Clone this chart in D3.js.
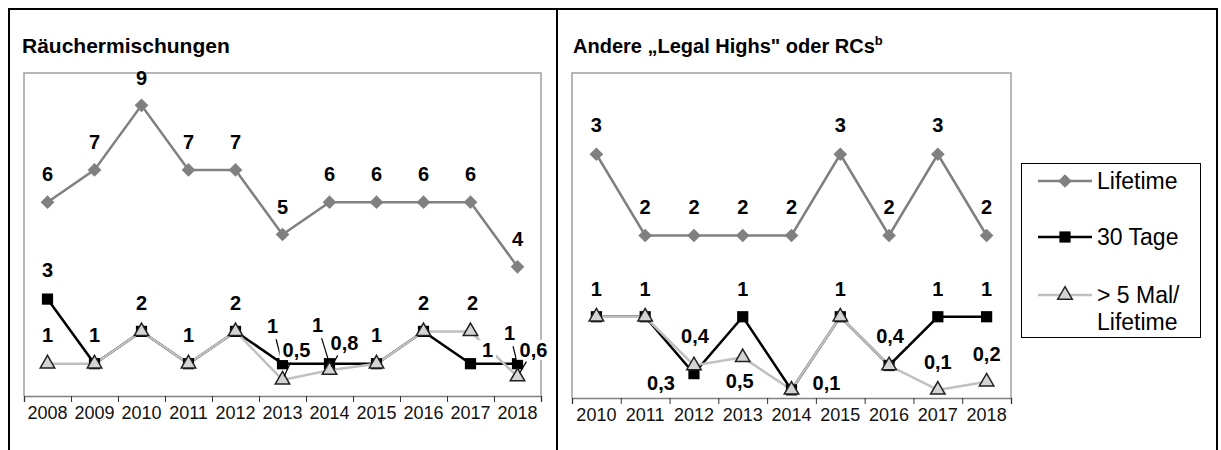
<!DOCTYPE html>
<html>
<head>
<meta charset="utf-8">
<script src="https://cdn.jsdelivr.net/npm/d3@7"></script>
<style>
	body { margin: 0; background: white; }
	text { font-family: Arial, "Liberation Sans", sans-serif; }
</style>
</head>
<body>
<script>
// Räuchermischungen (links)
var years1 = [2008, 2009, 2010, 2011, 2012, 2013, 2014, 2015, 2016, 2017, 2018]
var lifetime1 = [6, 7, 9, 7, 7, 5, 6, 6, 6, 6, 4]
var tage1 = [3, 1, 2, 1, 2, 1, 1, 1, 2, 1, 1]
var mal1 = [1, 1, 2, 1, 2, 0.5, 0.8, 1, 2, 2, 0.6]

// Andere "Legal Highs" oder RCs (rechts)
var years2 = [2010, 2011, 2012, 2013, 2014, 2015, 2016, 2017, 2018]
var lifetime2 = [3, 2, 2, 2, 2, 3, 2, 3, 2]
var tage2 = [1, 1, 0.3, 1, 0.1, 1, 0.4, 1, 1]
var mal2 = [1, 1, 0.4, 0.5, 0.1, 1, 0.4, 0.1, 0.2]

var seriesNames = ['Lifetime', '30 Tage', '> 5 Mal/']

// which data labels are shown, and where they sit relative to the point
var labels1 = [
	...years1.map((y, i) => ({s: 0, i: i, dx: 0, dy: -28})),
	{s: 1, i: 0, dx: 0, dy: -29},
	{s: 1, i: 5, dx: -10, dy: -38, leader: true},
	{s: 1, i: 6, dx: -12, dy: -39, leader: true},
	{s: 1, i: 9, dx: 17, dy: -14},
	{s: 1, i: 10, dx: -8, dy: -31, leader: true},
	{s: 2, i: 0, dx: 0, dy: -29},
	{s: 2, i: 1, dx: 0, dy: -29},
	{s: 2, i: 2, dx: 0, dy: -29},
	{s: 2, i: 3, dx: 0, dy: -29},
	{s: 2, i: 4, dx: 0, dy: -29},
	{s: 2, i: 5, dx: 14, dy: -30, leader: true},
	{s: 2, i: 6, dx: 15, dy: -27, leader: true},
	{s: 2, i: 7, dx: 0, dy: -29},
	{s: 2, i: 8, dx: 0, dy: -29},
	{s: 2, i: 9, dx: 2, dy: -29},
	{s: 2, i: 10, dx: 16, dy: -27, leader: true}
]

var labels2 = [
	...years2.map((y, i) => ({s: 0, i: i, dx: 0, dy: -29})),
	{s: 1, i: 2, dx: -33, dy: 9},
	{s: 1, i: 3, dx: 0, dy: -28},
	{s: 1, i: 7, dx: 0, dy: -28},
	{s: 1, i: 8, dx: 0, dy: -28},
	{s: 2, i: 0, dx: 0, dy: -28},
	{s: 2, i: 1, dx: 0, dy: -28},
	{s: 2, i: 2, dx: 1, dy: -30},
	{s: 2, i: 3, dx: -3, dy: 23},
	{s: 2, i: 4, dx: 35, dy: -7},
	{s: 2, i: 5, dx: 0, dy: -28},
	{s: 2, i: 6, dx: 1, dy: -30},
	{s: 2, i: 7, dx: 0, dy: -28},
	{s: 2, i: 8, dx: 0, dy: -28}
]

var styles = [
	{stroke: '#808080', fill: '#808080', marker: d3.symbolDiamond2, size: 120, mstroke: 'none'},
	{stroke: '#000000', fill: '#000000', marker: d3.symbolSquare2, size: 160, mstroke: 'none'},
	{stroke: '#c0c0c0', fill: '#d4d4d4', marker: d3.symbolTriangle2, size: 150, mstroke: '#222'}
]

var width = 1221, height = 450

var svg = d3.select('body').append('svg')
	.attr('width', width)
	.attr('height', height)

// table frame
var frame = svg.append('g').attr('stroke', 'black').attr('stroke-width', 2)
frame.append('line').attr('x1', 8).attr('x2', 1218).attr('y1', 9).attr('y2', 9)
frame.append('line').attr('x1', 9).attr('x2', 9).attr('y1', 8).attr('y2', height)
frame.append('line').attr('x1', 557).attr('x2', 557).attr('y1', 8).attr('y2', height)
frame.append('line').attr('x1', 1217).attr('x2', 1217).attr('y1', 8).attr('y2', height)

function fmt(v) {
	return String(v).replace('.', ',')
}

function drawPanel(opts) {
	var x = d3.scaleBand()
		.domain(opts.years)
		.range([opts.left, opts.right])
		.padding(0)

	var xl = d3.scaleLinear()
		.domain([0, opts.years.length])
		.range([opts.left, opts.right])

	var y = d3.scaleLinear()
		.domain([0, opts.ymax])
		.range([opts.bottom, opts.top])

	var g = svg.append('g')

	// plot area border
	g.append('path')
		.attr('d', 'M' + opts.left + ',' + opts.bottom + 'V' + opts.top + 'H' + opts.right + 'V' + opts.bottom)
		.attr('fill', 'none')
		.attr('stroke', '#a0a0a0')
		.attr('stroke-width', 1.5)

	// x axis: ticks between categories, labels in the middle
	var ax = g.append('g')
		.attr('transform', 'translate(0,' + opts.bottom + ')')
		.call(d3.axisBottom(xl).ticks(opts.years.length).tickSize(6).tickFormat(''))
	ax.select('.domain').attr('stroke', '#808080').attr('stroke-width', 1.5)
	ax.selectAll('.tick line').attr('stroke', '#333')

	var lab = g.append('g')
		.attr('transform', 'translate(0,' + opts.bottom + ')')
		.call(d3.axisBottom(x).tickSize(0).tickPadding(10))
	lab.select('.domain').remove()
	lab.selectAll('text')
		.attr('font-size', 18)
		.attr('font-family', 'Arial, Liberation Sans, sans-serif')
		.attr('fill', '#111')

	var cx = d => x(d) + x.bandwidth() / 2
	var series = opts.series

	var line = d3.line()
		.x((d, i) => cx(opts.years[i]))
		.y(d => y(d))

	series.forEach(function(vals, s) {
		g.append('path')
			.datum(vals)
			.attr('d', line)
			.attr('fill', 'none')
			.attr('stroke', styles[s].stroke)
			.attr('stroke-width', 2.5)
	})

	series.forEach(function(vals, s) {
		g.selectAll('.m' + s)
			.data(vals)
			.enter()
			.append('path')
				.attr('class', 'm' + s)
				.attr('transform', (d, i) => 'translate(' + cx(opts.years[i]) + ',' + y(d) + ')')
				.attr('d', d3.symbol().type(styles[s].marker).size(styles[s].size))
				.attr('fill', styles[s].fill)
				.attr('stroke', styles[s].mstroke)
				.attr('stroke-width', 1.5)
	})

	// data labels
	opts.labels.forEach(function(l) {
		var v = series[l.s][l.i]
		var px = cx(opts.years[l.i]), py = y(v)
		var lx = px + l.dx, ly = py + l.dy

		var t = g.append('text')
			.attr('x', lx)
			.attr('y', ly)
			.attr('dy', '0.36em')
			.attr('text-anchor', 'middle')
			.attr('font-size', 20)
			.attr('font-weight', 'bold')
			.text(fmt(v))

		if (l.s > 0) {
			var bb = t.node().getBBox()
			g.insert('rect', function() { return t.node() })
				.attr('x', bb.x - 3)
				.attr('y', bb.y + 1)
				.attr('width', bb.width + 6)
				.attr('height', bb.height - 2)
				.attr('fill', 'white')
		}

		if (l.leader) {
			var vx = px - lx, vy = py - ly
			var len = Math.sqrt(vx * vx + vy * vy)
			g.append('line')
				.attr('x1', lx + vx * 14 / len)
				.attr('y1', ly + vy * 14 / len)
				.attr('x2', px - vx * 4 / len)
				.attr('y2', py - vy * 4 / len)
				.attr('stroke', 'black')
				.attr('stroke-width', 1.2)
		}
	})

	// title
	var title = svg.append('text')
		.attr('x', opts.titleX)
		.attr('y', 53)
		.attr('font-size', opts.titleSize)
		.attr('font-weight', 'bold')
		.text(opts.title)
	if (opts.sup) {
		title.append('tspan')
			.attr('font-size', 13)
			.attr('dy', -8)
			.text(opts.sup)
	}
}

drawPanel({
	years: years1,
	series: [lifetime1, tage1, mal1],
	labels: labels1,
	left: 24, right: 541, top: 73, bottom: 396,
	ymax: 10,
	title: 'Räuchermischungen',
	titleSize: 21,
	titleX: 22
})

drawPanel({
	years: years2,
	series: [lifetime2, tage2, mal2],
	labels: labels2,
	left: 572, right: 1011, top: 73, bottom: 398,
	ymax: 4,
	title: 'Andere \u201ELegal Highs" oder RCs',
	titleSize: 20,
	sup: 'b',
	titleX: 573
})

// legend
var legend = svg.append('g')
legend.append('rect')
	.attr('x', 1021.5).attr('y', 163.5)
	.attr('width', 179).attr('height', 174)
	.attr('fill', 'white')
	.attr('stroke', 'black')
	.attr('stroke-width', 1)

var legendRows = [181, 237, 295]
seriesNames.forEach(function(name, s) {
	var ly = legendRows[s]
	legend.append('line')
		.attr('x1', 1038).attr('x2', 1092)
		.attr('y1', ly).attr('y2', ly)
		.attr('stroke', styles[s].stroke)
		.attr('stroke-width', 2.5)
	legend.append('path')
		.attr('transform', 'translate(1065,' + ly + ')')
		.attr('d', d3.symbol().type(styles[s].marker).size(styles[s].size))
		.attr('fill', styles[s].fill)
		.attr('stroke', styles[s].mstroke)
		.attr('stroke-width', 1.5)
	legend.append('text')
		.attr('x', 1097).attr('y', ly)
		.attr('dy', '0.36em')
		.attr('font-size', 23)
		.text(name)
})
legend.append('text')
	.attr('x', 1097).attr('y', 322)
	.attr('dy', '0.36em')
	.attr('font-size', 23)
	.text('Lifetime')
</script>
</body>
</html>
